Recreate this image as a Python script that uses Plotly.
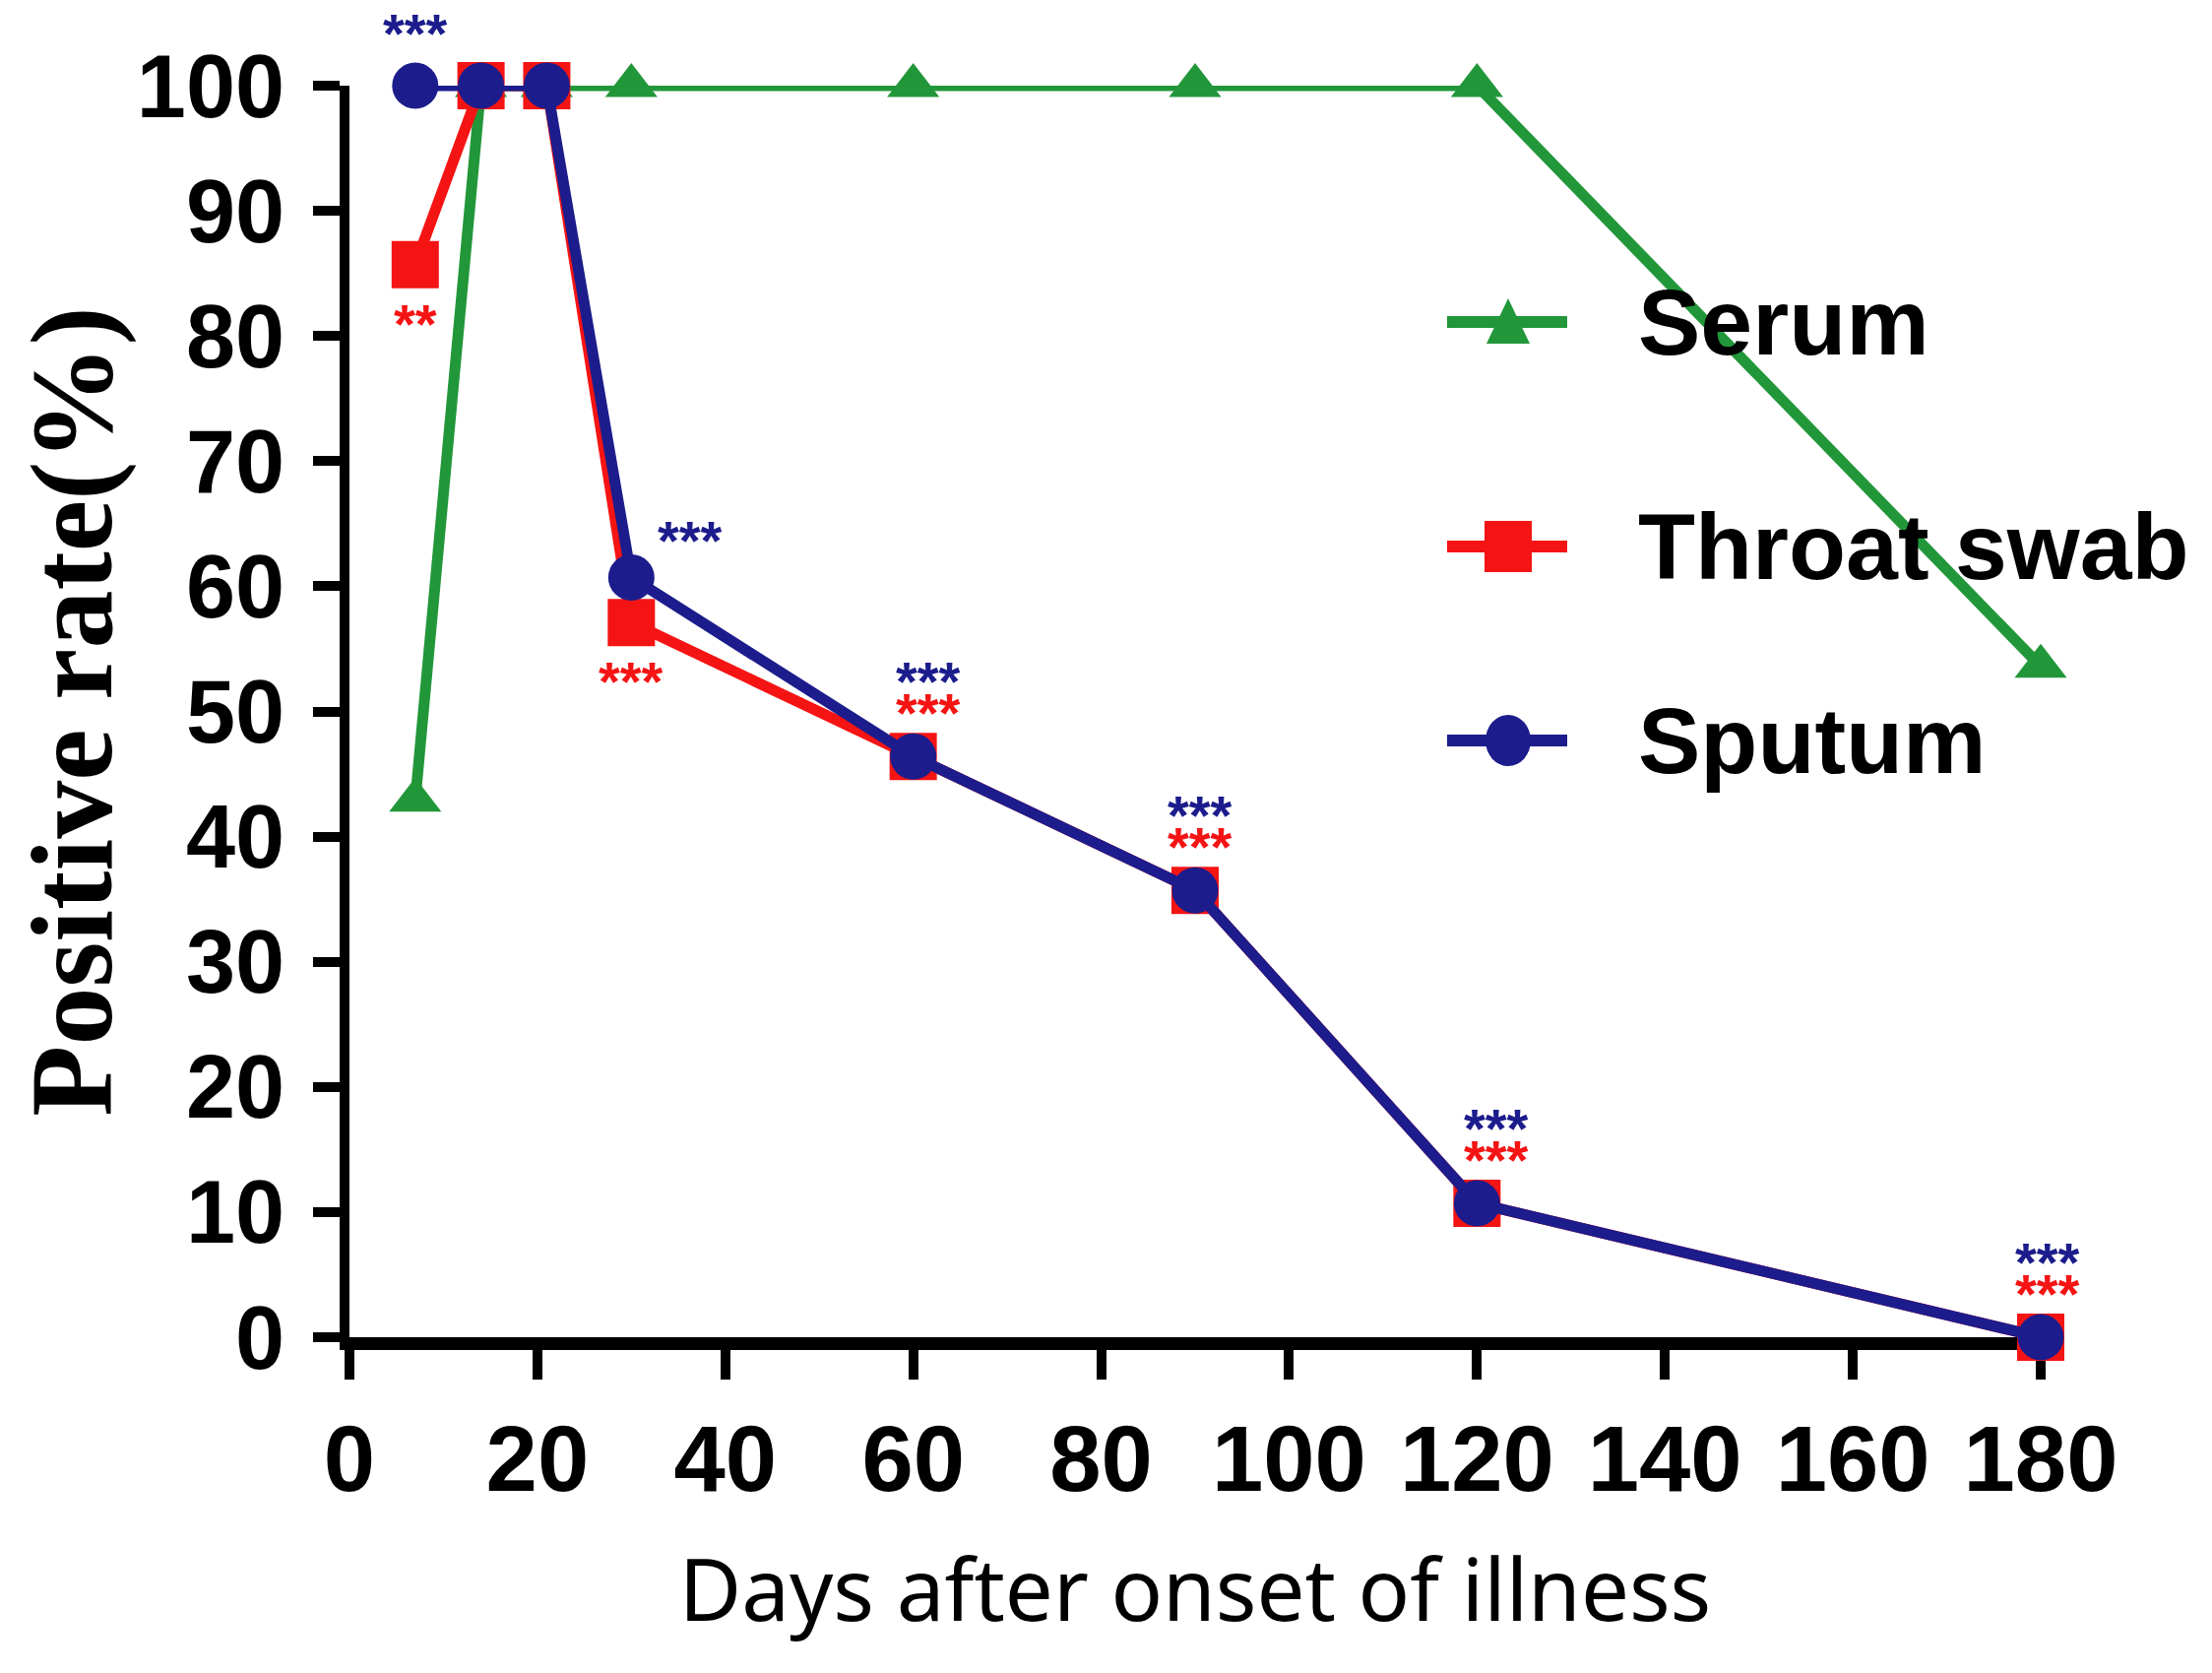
import plotly.graph_objects as go

# data (n = 28 patients)
days = [7, 14, 21, 30, 60, 90, 120, 180]
serum = [42.9, 100, 100, 100, 100, 100, 100, 53.6]
throat_swab = [85.7, 100, 100, 57.1, 46.4, 35.7, 10.7, 0]
sputum = [100, 100, 100, 60.7, 46.4, 35.7, 10.7, 0]

throat_sig = ["**", "", "", "***", "***", "***", "***", "***"]
sputum_sig = ["***", "", "", "***", "***", "***", "***", "***"]

series_names = ["Serum", "Throat swab", "Sputum"]

x_ticks = [0, 20, 40, 60, 80, 100, 120, 140, 160, 180]
y_ticks = [0, 10, 20, 30, 40, 50, 60, 70, 80, 90, 100]

GREEN = "#22973a"
RED = "#f51414"
BLUE = "#1c1c8c"

# page has an 8px body margin, so margins are trimmed by 8
L, R, T, B = 347, 182, 79, 349
W, H = 2247, 1699
PW, PH = W - L - R, H - T - B


def xp(px):
    return (px - 8 - L) / PW


def yp(py):
    return (H - B - (py - 8)) / PH


# pixel shifts for the star labels (style only)
throat_shift = [(0, -60), None, None, (0, -59), (15, 45), (5, 45), (20, 45), (7, 45)]
sputum_shift = [(0, 54), None, None, (60, 38), (15, 77), (5, 77), (20, 77), (7, 77)]

fig = go.Figure()
fig.add_trace(go.Scatter(x=days, y=serum, name="Serum", mode="lines+markers",
                         line=dict(color=GREEN, width=11),
                         marker=dict(symbol="triangle-up", size=46, color=GREEN),
                         showlegend=False, cliponaxis=False))
fig.add_trace(go.Scatter(x=days, y=throat_swab, name="Throat swab", mode="lines+markers",
                         line=dict(color=RED, width=11),
                         marker=dict(symbol="square", size=48, color=RED),
                         showlegend=False, cliponaxis=False))
fig.add_trace(go.Scatter(x=days, y=sputum, name="Sputum", mode="lines+markers",
                         line=dict(color=BLUE, width=11),
                         marker=dict(symbol="circle", size=47, color=BLUE),
                         showlegend=False, cliponaxis=False))

annots = []
for sig, vals, shifts, col in [(throat_sig, throat_swab, throat_shift, RED),
                               (sputum_sig, sputum, sputum_shift, BLUE)]:
    for d, v, s, sh in zip(days, vals, sig, shifts):
        if not s:
            continue
        annots.append(dict(x=d, y=v, text=s, showarrow=False, xshift=sh[0], yshift=sh[1],
                           font=dict(family="Liberation Sans", size=56, color=col, weight="bold")))

# hand-drawn legend (plotly caps legend marker size)
legend_rows = [327, 555, 752]
legend_cols = [GREEN, RED, BLUE]
shapes = []
for name, row, col, sym in zip(series_names, legend_rows, legend_cols, ["tri", "sq", "ci"]):
    shapes.append(dict(type="line", xref="paper", yref="paper", x0=xp(1470), x1=xp(1592),
                       y0=yp(row), y1=yp(row), line=dict(color=col, width=12)))
    base = dict(xref="paper", yref="paper", xsizemode="pixel", ysizemode="pixel",
                xanchor=xp(1532), yanchor=yp(row), fillcolor=col, line=dict(width=0))
    if sym == "tri":
        shapes.append(dict(type="path", path="M-22,-22 L22,-22 L0,24 Z", **base))
    elif sym == "sq":
        shapes.append(dict(type="rect", x0=-24, x1=24, y0=-26, y1=26, **base))
    else:
        shapes.append(dict(type="circle", x0=-23, x1=23, y0=-26, y1=26, **base))
    annots.append(dict(xref="paper", yref="paper", x=xp(1662), y=yp(row), text=name,
                       xanchor="left", yanchor="middle", showarrow=False,
                       font=dict(family="Liberation Sans", size=95, color="black", weight="bold")))

fig.update_layout(
    width=W, height=H,
    margin=dict(l=L, r=R, t=T, b=B),
    plot_bgcolor="white", paper_bgcolor="white",
    showlegend=False,
    annotations=annots,
    shapes=shapes,
)
fig.update_xaxes(range=[0, 180], tickvals=x_ticks, showgrid=False, zeroline=False,
                 showline=True, linecolor="black", linewidth=13,
                 ticks="outside", ticklen=30, tickwidth=10, tickcolor="black",
                 ticklabelstandoff=0, layer="below traces",
                 tickfont=dict(family="Liberation Sans", size=94, color="black", weight="bold"),
                 title=dict(text="Days after onset of illness", standoff=58,
                            font=dict(family="Noto Sans", size=87, color="black")))
fig.update_yaxes(range=[0, 100], tickvals=y_ticks, showgrid=False, zeroline=False,
                 showline=True, linecolor="black", linewidth=10,
                 ticks="outside", ticklen=27, tickwidth=10, tickcolor="black",
                 ticklabelstandoff=11, layer="below traces",
                 tickfont=dict(family="Liberation Sans", size=90, color="black", weight="bold"),
                 title=dict(text="Positive rate(%)", standoff=8,
                            font=dict(family="Liberation Serif", size=118, color="black", weight="bold")))

fig.write_html("out.html")
